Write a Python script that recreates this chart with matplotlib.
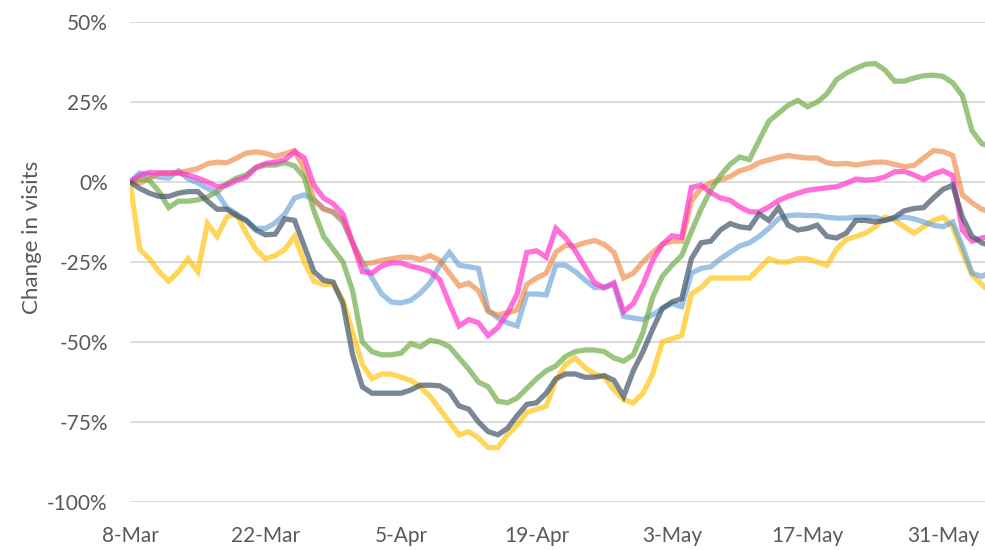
import numpy as np
import pandas as pd
import matplotlib
matplotlib.use("Agg")
import matplotlib.pyplot as plt

start_date = "2020-03-08"
tick_labels = ["8-Mar", "22-Mar", "5-Apr", "19-Apr", "3-May", "17-May", "31-May"]
y_ticks = [50, 25, 0, -25, -50, -75, -100]

yellow = [0, -21, -24, -28, -31, -28, -24, -28, -13, -17, -11, -10, -16, -21, -24, -23, -21, -17,
          -25, -31, -32, -32, -37, -47, -57, -61.5, -60, -60, -61, -62, -64, -67, -71, -75, -79, -78,
          -80, -83, -83, -79, -76, -72, -71, -70, -62, -57, -55, -58, -60, -61, -65, -68, -69, -66,
          -60, -50, -49, -48, -35, -33, -30, -30, -30, -30, -30, -27, -24, -25, -25, -24, -24, -25,
          -26, -21, -18, -17, -16, -14, -11, -12, -14, -16, -14, -12, -11, -14, -22, -29, -32, -35]
grey = [0, -2, -3.5, -4.5, -4.5, -3.5, -3, -3, -6, -8.5, -8.5, -10.5, -12, -15, -16.5, -16.3, -11.5,
        -12, -20, -28, -30.7, -31.3, -38, -54, -64, -66, -66, -66, -66, -65, -63.5, -63.5, -63.7,
        -65.5, -70, -71, -75, -78, -79, -77, -73, -69.5, -69, -66, -61.5, -60, -60, -61, -61, -60.5,
        -62, -67, -59, -53, -46, -39.5, -37.5, -36.5, -24, -19, -18.5, -15, -13, -14, -14.4, -10,
        -12, -8, -13.5, -15, -14.5, -13.5, -17, -17.5, -16, -12, -12, -12.5, -12, -11, -9, -8.3,
        -8, -5, -2.3, -1, -11, -17, -19, -20]
green = [0, 1, 0.5, -3, -8, -6, -6, -5.6, -4.7, -3, -0.5, 1.2, 2.2, 4.5, 5.3, 5.3, 6, 5, 1.5, -9,
         -17, -21, -25, -34, -50, -53, -54, -54, -53.5, -50.5, -51.5, -49.5, -50, -51.5, -55, -58.5,
         -62.5, -64, -68.5, -69, -67.5, -64.5, -61.5, -59, -57.5, -54.5, -53, -52.5, -52.5, -53,
         -55, -56, -54, -47, -36, -29.5, -26, -23, -15.5, -8.5, -2.5, 2, 5.5, 7.8, 7, 13, 19, 21.5,
         24, 25.5, 23.5, 25, 27.5, 32, 34, 35.5, 36.8, 37, 35, 31.5, 31.5, 32.5, 33.2, 33.4, 33, 31,
         27, 16, 12, 11]
blue = [0, 2.8, 2.2, 1.5, 1.2, 3.5, 1, -0.3, -2, -3.5, -8, -10, -12, -14.5, -14.5, -12.8, -10, -5,
        -4, -5.5, -8.3, -9.5, -12.5, -19, -25, -30, -35, -37.5, -37.8, -37, -34.7, -31.5, -26, -22,
        -26, -26.5, -27, -40, -42.5, -44, -45, -35, -35, -35.3, -26, -26, -28, -30.6, -33, -33, -32,
        -42, -42.5, -43, -41.5, -39.5, -38, -39, -28.5, -27, -26.5, -24, -22, -20, -19, -17, -14.5,
        -11.5, -10.5, -10.3, -10.5, -10.5, -11, -11.3, -11.3, -11, -11, -11, -12, -11.3, -11, -11.5,
        -12.5, -13.5, -14, -12.5, -20, -28.5, -29.5, -28]
orange = [0, -0.3, 1, 2.8, 2.8, 3, 3.5, 4.2, 5.7, 6.2, 6, 7.5, 9, 9.4, 9, 8, 8.8, 9.8, 4, -5.5,
          -8.5, -9.3, -12, -19, -25.5, -25.3, -24.5, -24, -23.5, -23.5, -24.2, -23, -24.5, -28.5,
          -32.5, -31.6, -34, -40.5, -41.6, -40.8, -40, -32, -30, -28.5, -22, -19.8, -20, -19, -18.3,
          -19.5, -22, -30, -28.5, -25, -22, -19.5, -18.5, -18.5, -6, -2, -0.2, 0.7, 1.7, 3.5, 4.4, 6,
          6.9, 7.7, 8.3, 7.8, 7.5, 7.5, 6, 5.6, 5.8, 5.3, 5.8, 6.2, 6.2, 5.5, 4.8, 5.2, 7.5, 9.8, 9.5,
          8.3, -4, -6.5, -8.5, -9.5]
magenta = [0, 2, 3, 2.8, 2.8, 2.8, 2.2, 1.2, 0, -1.5, -1, 0.5, 1.5, 4.5, 5.8, 6.2, 6.9, 9.5, 7.5,
           -1, -5, -6.8, -10, -19, -28, -28.5, -26.2, -25.3, -25.3, -26.3, -27, -28, -30.5, -38, -45,
           -43, -44, -48, -45.5, -41, -35, -22, -21.5, -23.5, -14.5, -17.5, -21.5, -26.5, -31.5, -33,
           -31.5, -40.5, -38, -32, -24.5, -19.5, -16.8, -17.3, -1.7, -1, -3.3, -5, -5.7, -7.8, -9.3,
           -9.4, -7.8, -5.8, -4.5, -3.5, -2.6, -2.2, -1.8, -1.5, -0.4, 0.9, 0.6, 0.8, 1.6, 3.2, 3.3,
           2.2, 0.8, 2.5, 3.5, 2, -15, -18.5, -17.5, -17]

series = [
    (yellow, "#FFC000", 0.65),
    (blue, "#5B9BD5", 0.6),
    (orange, "#ED7D31", 0.6),
    (green, "#70AD47", 0.7),
    (magenta, "#FF33CC", 0.7),
    (grey, "#44546A", 0.7),
]

n = len(yellow)
dates = pd.date_range(start_date, periods=n, freq="D")

plt.rcParams["font.family"] = ["Lato", "DejaVu Sans"]

fig = plt.figure(figsize=(9.85, 5.5), dpi=100)
ax = fig.add_axes([0.132, 0.0873, 0.8745, 0.8727])

for vals, col, a in series:
    ax.plot(dates, vals, color=col, alpha=a, lw=3.8, solid_joinstyle="miter", solid_capstyle="butt")

ax.set_ylim(-100, 50)
ax.set_yticks(y_ticks)
ax.set_yticklabels([f"{v}%" for v in y_ticks])
ax.set_xlim(dates[0], dates[0] + pd.Timedelta(days=89))
tick_dates = pd.date_range(start_date, periods=len(tick_labels), freq="14D")
ax.set_xticks(tick_dates)
ax.set_xticklabels(tick_labels)

ax.grid(axis="y", color="#D9D9D9", lw=1.3)
ax.set_axisbelow(True)
for s in ax.spines.values():
    s.set_visible(False)
ax.tick_params(axis="both", length=0, labelsize=15, colors="#595959")
ax.tick_params(axis="x", pad=17)
ax.tick_params(axis="y", pad=16)
ax.set_ylabel("Change in visits", fontsize=16, color="#595959")
ax.yaxis.set_label_coords(-0.102, 0.552)

fig.savefig("out.png", dpi=100)
